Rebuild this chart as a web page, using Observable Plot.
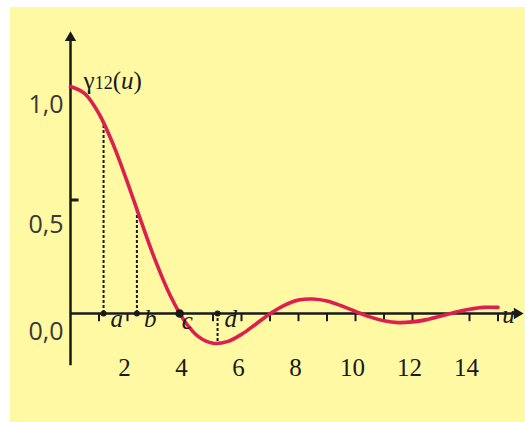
<!DOCTYPE html>
<html>
<head>
<meta charset="utf-8">
<script src="https://cdn.jsdelivr.net/npm/d3@7"></script>
<script src="https://cdn.jsdelivr.net/npm/@observablehq/plot@0.6"></script>
<style>
  html, body { margin: 0; padding: 0; background: #ffffff; }
  #chart { position: absolute; left: 10px; top: 7px; width: 515px; height: 415px; background: #fff9a3; }
  #chart svg { background: transparent; display: block; }
</style>
</head>
<body>
<div id="chart"></div>
<script>
// Curve γ12(u)
const uValues = [0, 0.5, 1, 1.5, 2, 2.5, 3, 3.5, 4, 4.5, 5, 5.5, 6, 6.5, 7, 7.5, 8, 8.5, 9, 9.5, 10, 10.5, 11, 11.5, 12, 12.5, 13, 13.5, 14, 14.5, 15];
const gammaValues = [1.0, 0.969, 0.880, 0.744, 0.577, 0.398, 0.226, 0.079, -0.033, -0.103, -0.131, -0.124, -0.092, -0.047, -0.001, 0.036, 0.059, 0.064, 0.055, 0.034, 0.009, -0.015, -0.032, -0.040, -0.037, -0.027, -0.011, 0.006, 0.019, 0.027, 0.027];

// Marked points a, b, c, d
const pointLabels = ["a", "b", "c", "d"];
const pointU = [1.16, 2.33, 3.83, 5.16];
const pointGamma = [0.84, 0.46, 0, -0.13];

// Axis ticks and labels
const xTickValues = [1, 2, 5, 6, 7, 8, 9, 10, 11, 12, 14, 15];
const xTickLabels = [2, 4, 6, 8, 10, 12, 14];
const yTickLabels = ["1,0", "0,5", "0,0"];
const yTickValues = [1, 0.5, 0];
const yAxisTitle = "γ12(u)";
const xAxisTitle = "u";

const curve = uValues.map((u, i) => ({u, g: gammaValues[i]}));
const points = pointLabels.map((l, i) => ({label: l, u: pointU[i], g: pointGamma[i]}));

const ink = "#1a1a1a";
const red = "#dc1f4e";
const serif = "'Liberation Serif', 'Times New Roman', serif";
const sans = "'Open Sans', 'DejaVu Sans', sans-serif";

const plot = Plot.plot({
  width: 515,
  height: 415,
  x: {domain: [0, 15], range: [60, 487.5], axis: null},
  y: {domain: [0, 1], range: [306, 79], axis: null},
  style: {background: "transparent", overflow: "visible"},
  marks: [
    // dashed drop lines
    Plot.ruleX(points.filter(d => d.g !== 0), {x: "u", y1: 0, y2: "g", stroke: ink, strokeWidth: 2, strokeDasharray: "3,2"}),
    // axes
    Plot.ruleX([0], {y1: -0.23, y2: 1.2, stroke: ink, strokeWidth: 2.5}),
    Plot.ruleY([0], {x1: 0, x2: 15.6, stroke: ink, strokeWidth: 2.5}),
    Plot.dot([0], {x: 0, y: 1.215, symbol: "triangle", r: 4.2, fill: ink, stroke: null}),
    Plot.dot([0], {x: 15.67, y: 0, symbol: "triangle", r: 4.2, fill: ink, stroke: null, rotate: 90}),
    // x ticks
    Plot.ruleX(xTickValues, {x: d => d, y1: 0, y2: -0.036, stroke: ink, strokeWidth: 2}),
    // y tick at 0.5
    Plot.ruleY([0.5], {y: d => d, x1: 0, x2: 0.3, stroke: ink, strokeWidth: 3}),
    // curve
    Plot.line(curve, {x: "u", y: "g", stroke: red, strokeWidth: 3.6, curve: "catmull-rom"}),
    // points
    Plot.dot(points.filter(d => d.label !== "c"), {x: "u", y: 0, r: 3, fill: ink, stroke: null}),
    Plot.dot(points.filter(d => d.label === "c"), {x: "u", y: 0, r: 4.3, fill: ink, stroke: null}),
    // point labels
    Plot.text(points.filter(d => d.label !== "c"), {x: "u", y: 0, text: "label", textAnchor: "start", dx: 7, dy: 5, fontFamily: serif, fontStyle: "italic", fontSize: 25, fill: ink}),
    Plot.text(points.filter(d => d.label === "c"), {x: "u", y: 0, text: "label", textAnchor: "start", dx: 2, dy: 7, fontFamily: serif, fontStyle: "italic", fontSize: 25, fill: ink}),
    // x tick labels
    Plot.text(xTickLabels, {x: d => d, y: -0.238, text: d => String(d), dx: -3, fontFamily: serif, fontSize: 25, fill: ink}),
    // y tick labels
    Plot.text([0, 2].map(i => ({v: yTickValues[i], t: yTickLabels[i]})), {x: 0, y: "v", text: "t", textAnchor: "end", dx: -7, dy: 18, fontFamily: sans, fontSize: 25, fill: "#383838"}),
    Plot.text([1].map(i => ({v: yTickValues[i], t: yTickLabels[i]})), {x: 0, y: "v", text: "t", textAnchor: "end", dx: -7, dy: 25, fontFamily: sans, fontSize: 25, fill: "#383838"}),
    // axis titles
    Plot.text([yAxisTitle], {x: 0.46, y: 1.023, text: d => d, textAnchor: "start", fontFamily: serif, fontSize: 25, fill: ink}),
    Plot.text([xAxisTitle], {x: 15.37, y: 0, text: d => d, textAnchor: "middle", dy: 1, fontFamily: serif, fontStyle: "italic", fontSize: 25, fill: ink})
  ]
});

// Style the y-axis title: "12" smaller, "u" italic
d3.select(plot).selectAll("text").filter(function() { return this.textContent === yAxisTitle; }).each(function() {
  const t = d3.select(this);
  t.text(null);
  t.append("tspan").text("γ");
  t.append("tspan").attr("font-size", 18).text("12");
  t.append("tspan").text("(");
  t.append("tspan").attr("font-style", "italic").text("u");
  t.append("tspan").text(")");
});

document.getElementById("chart").appendChild(plot);
</script>
</body>
</html>
